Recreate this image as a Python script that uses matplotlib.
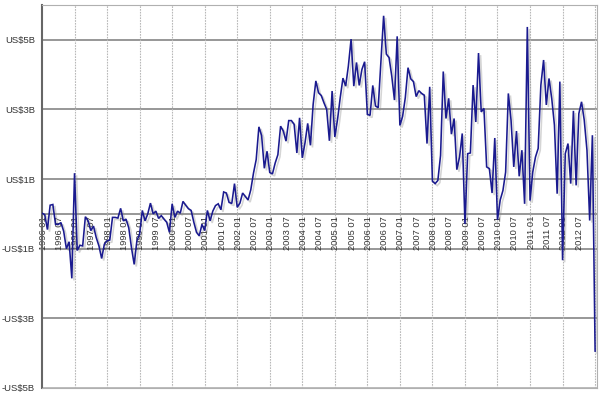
import matplotlib
matplotlib.use("Agg")
import matplotlib.pyplot as plt
import matplotlib.patheffects as pe
import pandas as pd

plt.rcParams['font.family'] = ['Liberation Sans', 'DejaVu Sans']

# Monthly values (US$ billions), 1996-01 .. 2013-01
values = [
    0.02, -0.02, -0.45, 0.25, 0.27, -0.3, -0.3, -0.25, -0.5, -1.0, -0.8, -1.85,
    1.17, -1.05, -0.9, -0.92, -0.08, -0.2, -0.48, -0.35, -0.68, -0.92, -1.28, -0.87,
    -0.77, -0.75, -0.1, -0.1, -0.12, 0.16, -0.2, -0.15, -0.4, -0.97, -1.45, -0.77,
    -0.58, 0.1, -0.2, 0.0, 0.31, 0.0, 0.08, -0.13, -0.05, -0.15, -0.24, -0.53,
    0.29, -0.1, 0.08, 0.02, 0.36, 0.25, 0.15, 0.1, -0.24, -0.53, -0.63, -0.3,
    -0.48, 0.1, -0.2, 0.08, 0.24, 0.29, 0.12, 0.63, 0.6, 0.33, 0.3, 0.87,
    0.19, 0.31, 0.6, 0.5, 0.4, 0.69, 1.17, 1.56, 2.5, 2.25, 1.31, 1.8,
    1.19, 1.15, 1.46, 1.7, 2.52, 2.38, 2.09, 2.68, 2.68, 2.57, 1.75, 2.76,
    1.61, 2.04, 2.6, 1.97, 3.14, 3.82, 3.48, 3.4, 3.19, 3.0, 2.1, 3.53,
    2.21, 2.71, 3.34, 3.9, 3.67, 4.25, 5.02, 3.67, 4.35, 3.69, 4.15, 4.37,
    2.86, 2.83, 3.69, 3.1, 3.05, 4.35, 5.69, 4.59, 4.49, 3.96, 3.27, 5.1,
    2.54, 2.8, 3.34, 4.2, 3.88, 3.8, 3.37, 3.54, 3.46, 3.41, 2.02, 3.65,
    0.94, 0.87, 0.96, 1.68, 4.09, 2.74, 3.32, 2.29, 2.74, 1.27, 1.63, 2.31,
    -0.29, 1.73, 1.75, 3.7, 2.64, 4.62, 2.93, 3.03, 1.35, 1.3, 0.6, 2.18,
    -0.17, 0.4, 0.67, 1.2, 3.46, 2.69, 1.35, 2.38, 1.08, 1.83, 0.29, 5.37,
    0.38, 1.2, 1.63, 1.88, 3.7, 4.42, 3.13, 3.89, 3.32, 2.55, 0.58, 3.8,
    -1.33, 1.73, 2.02, 0.87, 2.96, 0.82, 2.88, 3.22, 2.69, 1.83, -0.19, 2.26,
    -3.94,
]
months = pd.period_range("1996-01", periods=len(values), freq="M")
month_labels = [f"{p.year} {p.month:02d}" for p in months]

y_ticks = [5, 3, 1, -1, -3, -5]
y_labels = ["US$5B", "US$3B", "US$1B", "-US$1B", "-US$3B", "-US$5B"]

fig = plt.figure(figsize=(6.0, 3.93), dpi=100)
ax = fig.add_axes([42/600, 5/393, (597-42)/600, (388-5)/393])

x = list(range(len(values)))
ax.set_xlim(0, len(values) - 0.3)
ax.set_ylim(-5, 6)

# horizontal grid lines
for v in y_ticks + [0]:
    ax.axhline(v, color='#7a7a7a' if v != -5 else '#aaaaaa', lw=1.1, zorder=1)
# vertical dotted lines at each January
for i, p in enumerate(months):
    if p.month == 1 and i > 0:
        ax.axvline(i, color='#b8b8b8', lw=0.8, ls=(0, (1.5, 1.0)), zorder=1)

ax.plot(x, values, color='#1a1a8f', lw=1.15, zorder=3, solid_joinstyle='miter',
        path_effects=[pe.SimpleLineShadow(offset=(1.5, -1.5), shadow_color='#888888', alpha=0.35),
                      pe.Normal()])

# x labels inside plot below zero line
for i, lab in enumerate(month_labels):
    if i % 6 == 0 and i < len(values) - 1:
        ax.text(i + 0.4, -0.06, lab, rotation=90, ha='center', va='top',
                fontsize=6.7, color='#333333', zorder=2)

ax.set_yticks(y_ticks)
ax.set_yticklabels(y_labels, fontsize=6.8, color='#333333')
ax.tick_params(axis='y', length=0, pad=5)
ax.set_xticks([])

for s in ['top', 'right', 'bottom']:
    ax.spines[s].set_color('#b0b0b0')
    ax.spines[s].set_linewidth(0.8)
ax.spines['left'].set_color('#666666')
ax.spines['left'].set_linewidth(1.5)

fig.savefig("out.png", dpi=100)
